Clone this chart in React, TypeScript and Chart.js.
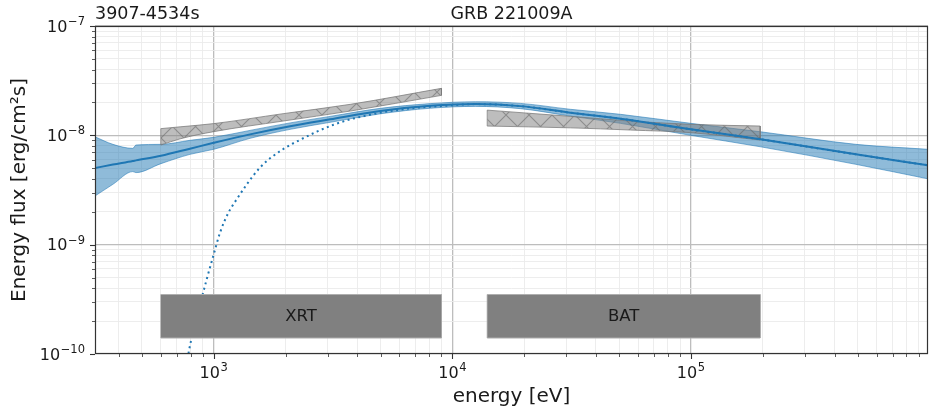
import { useEffect, useRef } from "react";
import { Chart, registerables } from "chart.js";

Chart.register(...registerables);

const FONT = "'DejaVu Sans', 'Noto Sans', sans-serif";
const BLUE = "#1f77b4";
const TEXT = "#1a1a1a";

// axis limits
const X_MIN = 318;
const X_MAX = 985000;
const Y_MIN = 1e-10;
const Y_MAX = 1e-7;

const timeRange = "3907-4534s";
const sourceName = "GRB 221009A";
const xTitle = "energy [eV]";
const yTitle = "Energy flux [erg/cm²s]";

// best-fit spectrum (E·F) and its credible band
const modelEnergy = [318, 378, 458, 472, 601, 795, 1000, 1420, 2090, 3075, 4990, 8090, 12500, 19280, 31250, 50690, 99800, 196000, 491000, 985000];
const modelFlux = [5.02e-9, 5.4e-9, 5.82e-9, 5.9e-9, 6.5e-9, 7.55e-9, 8.54e-9, 1.02e-8, 1.21e-8, 1.4e-8, 1.67e-8, 1.86e-8, 1.93e-8, 1.85e-8, 1.61e-8, 1.42e-8, 1.135e-8, 9.19e-9, 6.7e-9, 5.32e-9];
const bandUpper = [9.69e-9, 8.27e-9, 7.6e-9, 8.15e-9, 8.27e-9, 9.0e-9, 9.59e-9, 1.11e-8, 1.3e-8, 1.49e-8, 1.765e-8, 1.95e-8, 2.03e-8, 1.96e-8, 1.73e-8, 1.556e-8, 1.287e-8, 1.077e-8, 8.27e-9, 7.45e-9];
const bandLower = [2.79e-9, 3.565e-9, 4.66e-9, 4.56e-9, 5.51e-9, 6.7e-9, 7.45e-9, 9.39e-9, 1.134e-8, 1.315e-8, 1.573e-8, 1.77e-8, 1.84e-8, 1.754e-8, 1.5e-8, 1.287e-8, 1.0e-8, 7.85e-9, 5.43e-9, 4.0e-9];

// absorbed spectrum
const absEnergy = [770, 790, 935, 996, 1063, 1152, 1209, 1563, 1958, 2302, 2704, 3176, 3733, 4387, 5155, 7113, 8913, 12500, 19280, 31250, 50690, 99800, 196000, 491000, 985000];
const absFlux = [8e-11, 1.11e-10, 4.84e-10, 7.9e-10, 1.29e-9, 1.96e-9, 2.34e-9, 5.07e-9, 7.5e-9, 9.1e-9, 1.08e-8, 1.25e-8, 1.4e-8, 1.52e-8, 1.63e-8, 1.79e-8, 1.85e-8, 1.93e-8, 1.85e-8, 1.61e-8, 1.42e-8, 1.135e-8, 9.19e-9, 6.7e-9, 5.32e-9];

// XRT power-law butterfly
const xrtEnergy = [600, 723, 1000, 1953, 3733, 9000];
const xrtUpper = [1.151e-8, 1.196e-8, 1.28e-8, 1.578e-8, 1.92e-8, 2.69e-8];
const xrtLower = [8.15e-9, 9.29e-9, 1.081e-8, 1.351e-8, 1.667e-8, 2.32e-8];

// BAT power-law butterfly
const batEnergy = [14000, 31260, 55800, 99800, 195000];
const batUpper = [1.7e-8, 1.492e-8, 1.351e-8, 1.26e-8, 1.216e-8];
const batLower = [1.216e-8, 1.171e-8, 1.118e-8, 1.058e-8, 9.06e-9];

// instrument energy coverage
const instrumentNames = ["XRT", "BAT"];
const instrumentMin = [600, 14000];
const instrumentMax = [9000, 195000];
const instrumentFluxLow = 1.4e-10;
const instrumentFluxHigh = 3.5e-10;

const pts = (xs: number[], ys: number[]) => xs.map((x, i) => ({ x, y: ys[i] }));

const isDecade = (v: number) => Math.abs(Math.log10(v) - Math.round(Math.log10(v))) < 1e-6;

function logTicks(min: number, max: number) {
  const out: { value: number; major: boolean }[] = [];
  for (let p = Math.floor(Math.log10(min)); p <= Math.ceil(Math.log10(max)); p++) {
    for (let m = 1; m < 10; m++) {
      const v = m * Math.pow(10, p);
      if (v >= min * 0.9999 && v <= max * 1.0001) out.push({ value: v, major: m === 1 });
    }
  }
  return out;
}

// "10" with a raised exponent, anchored at its baseline
function drawPower(ctx: CanvasRenderingContext2D, v: number, x: number, y: number, align: "center" | "right") {
  const base = "10";
  const exp = String(Math.round(Math.log10(v))).replace("-", "\u2212");
  ctx.font = `16px ${FONT}`;
  const wb = ctx.measureText(base).width;
  ctx.font = `11.5px ${FONT}`;
  const we = ctx.measureText(exp).width;
  const total = wb + 0.6 + we;
  const x0 = align === "center" ? x - total / 2 : x - total;
  ctx.textAlign = "left";
  ctx.textBaseline = "alphabetic";
  ctx.font = `16px ${FONT}`;
  ctx.fillText(base, x0, y);
  ctx.font = `11.5px ${FONT}`;
  ctx.fillText(exp, x0 + wb + 0.6, y - 6.8);
}

function hatch(ctx: CanvasRenderingContext2D) {
  const s = 23;
  const c = document.createElement("canvas");
  c.width = s;
  c.height = s;
  const g = c.getContext("2d")!;
  g.fillStyle = "rgba(128,128,128,0.52)";
  g.fillRect(0, 0, s, s);
  g.strokeStyle = "rgba(100,100,100,0.55)";
  g.lineWidth = 1.1;
  g.beginPath();
  g.moveTo(0, 0);
  g.lineTo(s, s);
  g.moveTo(0, s);
  g.lineTo(s, 0);
  g.stroke();
  return ctx.createPattern(c, "repeat")!;
}

const curve = { pointRadius: 0, cubicInterpolationMode: "monotone" as const };

function ends(xs: number[], up: number[], lo: number[]) {
  const n = xs.length - 1;
  return [
    { x: xs[0], y: lo[0] },
    { x: xs[0], y: up[0] },
    { x: xs[0], y: null },
    { x: xs[n], y: up[n] },
    { x: xs[n], y: lo[n] },
  ];
}

const decorations = {
  id: "decorations",
  afterDatasetsDraw(chart: any) {
    const { ctx, scales } = chart;
    const xs = scales.x;
    const ys = scales.y;
    ctx.save();
    ctx.fillStyle = TEXT;
    ctx.font = `16.5px ${FONT}`;
    ctx.textAlign = "center";
    ctx.textBaseline = "middle";
    instrumentNames.forEach((name, i) => {
      const cx = xs.getPixelForValue(Math.sqrt(instrumentMin[i] * instrumentMax[i]));
      const cy = ys.getPixelForValue(Math.sqrt(instrumentFluxLow * instrumentFluxHigh));
      ctx.fillText(name, cx, cy);
    });
    ctx.restore();
  },
  afterDraw(chart: any) {
    const { ctx, chartArea: a, scales } = chart;
    ctx.save();
    // tick marks and decade labels
    ctx.strokeStyle = "#333333";
    ctx.fillStyle = TEXT;
    for (const t of scales.x.ticks) {
      const major = isDecade(t.value);
      const p = scales.x.getPixelForValue(t.value);
      const px = Math.round(p) + 0.5;
      ctx.lineWidth = major ? 1.1 : 0.8;
      ctx.beginPath();
      ctx.moveTo(px, a.bottom);
      ctx.lineTo(px, a.bottom + (major ? 5 : 3));
      ctx.stroke();
      if (major) drawPower(ctx, t.value, p, a.bottom + 24, "center");
    }
    for (const t of scales.y.ticks) {
      const major = isDecade(t.value);
      const p = scales.y.getPixelForValue(t.value);
      const py = Math.round(p) + 0.5;
      ctx.lineWidth = major ? 1.1 : 0.8;
      ctx.beginPath();
      ctx.moveTo(a.left - (major ? 5 : 3), py);
      ctx.lineTo(a.left, py);
      ctx.stroke();
      if (major) drawPower(ctx, t.value, a.left - 10, p + 5.8, "right");
    }
    // frame
    ctx.lineWidth = 1.2;
    ctx.strokeRect(a.left + 0.5, a.top + 0.5, a.right - a.left - 1, a.bottom - a.top - 1);
    // titles
    ctx.font = `17.5px ${FONT}`;
    ctx.textBaseline = "alphabetic";
    ctx.textAlign = "left";
    ctx.fillText(timeRange, a.left, 18.5);
    ctx.textAlign = "center";
    ctx.fillText(sourceName, (a.left + a.right) / 2, 18.5);
    ctx.restore();
  },
};

export default function App() {
  const ref = useRef<HTMLCanvasElement>(null);

  useEffect(() => {
    document.body.style.margin = "0";
    const canvas = ref.current!;
    const ctx = canvas.getContext("2d")!;
    const pattern = hatch(ctx);
    const bandFill = "rgba(31,119,180,0.5)";
    const bandEdge = "rgba(31,119,180,0.55)";
    const grayEdge = "rgba(120,120,120,0.75)";
    const boxEdge = "rgba(175,175,175,1)";

    const boxUp = instrumentMin.map((m, i) => [
      { x: m, y: instrumentFluxHigh },
      { x: instrumentMax[i], y: instrumentFluxHigh },
    ]);
    const boxLo = instrumentMin.map((m, i) => [
      { x: m, y: instrumentFluxLow },
      { x: instrumentMax[i], y: instrumentFluxLow },
    ]);

    const datasets: any[] = [
      // credible band
      { data: pts(modelEnergy, bandUpper), borderColor: bandEdge, borderWidth: 1, fill: false, order: 10, ...curve },
      { data: pts(modelEnergy, bandLower), borderColor: bandEdge, borderWidth: 1, fill: "-1", backgroundColor: bandFill, order: 10, ...curve },
      // XRT butterfly
      { data: pts(xrtEnergy, xrtUpper), borderColor: grayEdge, borderWidth: 1, fill: false, order: 8, ...curve },
      { data: pts(xrtEnergy, xrtLower), borderColor: grayEdge, borderWidth: 1, fill: "-1", backgroundColor: pattern, order: 8, ...curve },
      { data: ends(xrtEnergy, xrtUpper, xrtLower), borderColor: grayEdge, borderWidth: 1, fill: false, spanGaps: false, order: 8, pointRadius: 0 },
      // BAT butterfly
      { data: pts(batEnergy, batUpper), borderColor: grayEdge, borderWidth: 1, fill: false, order: 8, ...curve },
      { data: pts(batEnergy, batLower), borderColor: grayEdge, borderWidth: 1, fill: "-1", backgroundColor: pattern, order: 8, ...curve },
      { data: ends(batEnergy, batUpper, batLower), borderColor: grayEdge, borderWidth: 1, fill: false, spanGaps: false, order: 8, pointRadius: 0 },
      // absorbed model
      { data: pts(absEnergy, absFlux), borderColor: BLUE, borderWidth: 2, borderDash: [2, 3.5], fill: false, order: 6, ...curve },
      // best-fit model
      { data: pts(modelEnergy, modelFlux), borderColor: BLUE, borderWidth: 2, fill: false, order: 4, ...curve },
    ];
    instrumentNames.forEach((_, i) => {
      datasets.push(
        { data: boxUp[i], borderColor: boxEdge, borderWidth: 1, fill: false, order: 2, pointRadius: 0 },
        { data: boxLo[i], borderColor: boxEdge, borderWidth: 1, fill: "-1", backgroundColor: "#808080", order: 2, pointRadius: 0 },
        {
          data: [
            { x: instrumentMin[i], y: instrumentFluxLow },
            { x: instrumentMin[i], y: instrumentFluxHigh },
            { x: instrumentMin[i], y: null },
            { x: instrumentMax[i], y: instrumentFluxHigh },
            { x: instrumentMax[i], y: instrumentFluxLow },
          ],
          borderColor: boxEdge,
          borderWidth: 1,
          fill: false,
          spanGaps: false,
          order: 2,
          pointRadius: 0,
        }
      );
    });

    const gridColor = (c: any) => (c.tick && isDecade(c.tick.value) ? "#bdbdbd" : "#ebebeb");
    const gridWidth = (c: any) => (c.tick && isDecade(c.tick.value) ? 1.3 : 0.9);

    const chart = new Chart(ctx, {
      type: "line",
      data: { datasets },
      options: {
        animation: false,
        responsive: false,
        devicePixelRatio: 1,
        layout: { padding: { top: 26, right: 2, left: 0, bottom: 0 } },
        plugins: { legend: { display: false }, tooltip: { enabled: false } },
        scales: {
          x: {
            type: "logarithmic",
            min: X_MIN,
            max: X_MAX,
            afterBuildTicks: (s: any) => {
              s.ticks = logTicks(s.min, s.max);
            },
            afterFit: (s: any) => {
              s.height = 57;
              s.paddingLeft = 0;
              s.paddingRight = 0;
            },
            grid: { color: gridColor, lineWidth: gridWidth, drawTicks: false },
            border: { display: false },
            ticks: { display: false, autoSkip: false },
            title: {
              display: true,
              text: xTitle,
              color: TEXT,
              font: { family: FONT, size: 20 },
              padding: { top: 0, bottom: 2 },
            },
          },
          y: {
            type: "logarithmic",
            min: Y_MIN,
            max: Y_MAX,
            afterBuildTicks: (s: any) => {
              s.ticks = logTicks(s.min, s.max);
            },
            afterFit: (s: any) => {
              s.width = 95;
              s.paddingTop = 0;
              s.paddingBottom = 0;
            },
            grid: { color: gridColor, lineWidth: gridWidth, drawTicks: false },
            border: { display: false },
            ticks: { display: false, autoSkip: false },
            title: {
              display: true,
              text: yTitle,
              color: TEXT,
              font: { family: FONT, size: 20 },
              padding: { top: 8, bottom: 0 },
            },
          },
        },
      },
      plugins: [decorations],
    } as any);

    return () => chart.destroy();
  }, []);

  return (
    <div style={{ width: 930, height: 411 }}>
      <canvas ref={ref} width={930} height={411} style={{ display: "block", width: 930, height: 411 }} />
    </div>
  );
}
